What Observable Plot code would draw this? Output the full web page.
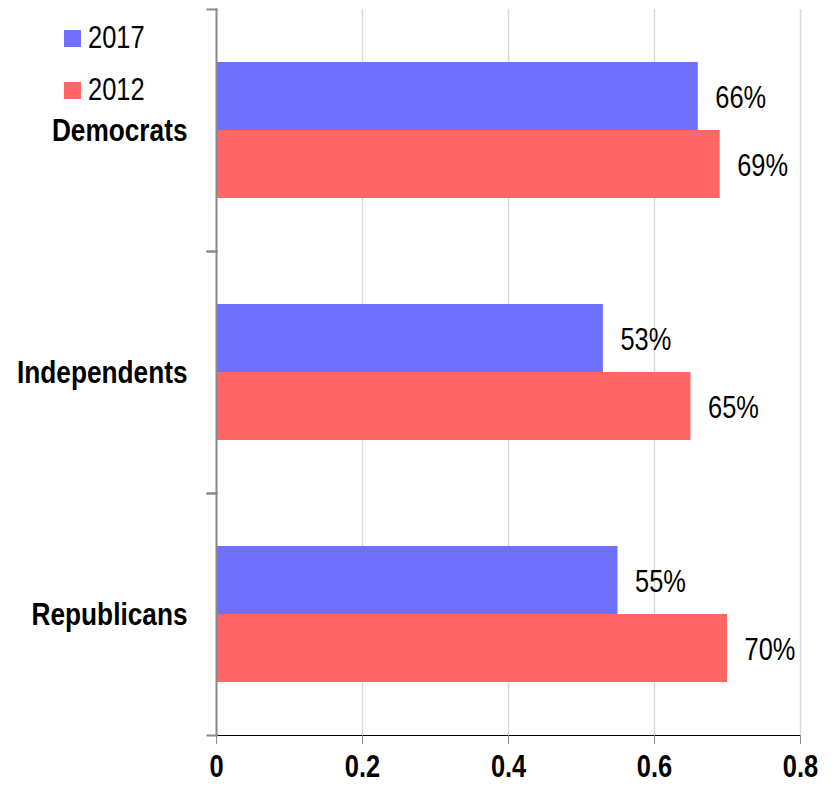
<!DOCTYPE html>
<html>
<head>
<meta charset="utf-8">
<script src="https://cdn.jsdelivr.net/npm/d3@7"></script>
<script src="https://cdn.jsdelivr.net/npm/@observablehq/plot@0.6"></script>
<style>
  html, body { margin: 0; padding: 0; background: #fff; }
  #wrap { position: relative; width: 837px; height: 788px; font-family: "Liberation Sans", Arial, sans-serif; }
  #chart svg { display: block; }
  #legend { position: absolute; left: 64px; top: 0; font-size: 31px; color: #000; }
  .item { position: absolute; left: 0; display: flex; align-items: center; white-space: nowrap; height: 34px; }
  .sw { width: 17px; height: 17px; margin-right: 7px; flex: none; }
  .lt { display: inline-block; transform: scaleX(0.82); transform-origin: left center; }
  g[aria-label*="axis"] { color: #898989; }
  g[aria-label*="axis"][aria-label*="label"] { color: #000; font-weight: 700; }
  g[aria-label="fy-axis tick label"] { font-size: 32px; }
</style>
</head>
<body>
<div id="wrap">
  <div id="chart"></div>
  <div id="legend"></div>
</div>
<script>
const parties = ["Democrats", "Independents", "Republicans"];
const years = ["2017", "2012"];
const values2017 = [0.66, 0.53, 0.55];
const values2012 = [0.69, 0.65, 0.70];
const xTicks = [0, 0.2, 0.4, 0.6, 0.8];
const colors = ["#7070ff", "#ff6666"];

const data = parties.flatMap((p, i) => [
  {party: p, year: "2017", value: values2017[i]},
  {party: p, year: "2012", value: values2012[i]}
]);

const W = 837, H = 788, mL = 216, mR = 37, mT = 8, mB = 53;
const font = '"Liberation Sans", Arial, sans-serif';
const narrow = 0.82;

const plot = Plot.plot({
  width: W, height: H,
  marginLeft: mL, marginRight: mR, marginTop: mT, marginBottom: mB,
  style: {fontFamily: font, fontSize: "31px", color: "#000", background: "#fff"},
  x: {domain: [0, 0.8], ticks: xTicks, tickSize: 9, tickPadding: 10, label: null, line: true, tickFormat: d => String(d)},
  y: {domain: years, axis: null, paddingInner: 0, paddingOuter: 0.754},
  fy: {domain: parties, padding: 0, axis: "left", label: null, tickSize: 0, tickPadding: 29},
  color: {domain: years, range: colors},
  marks: [
    Plot.ruleX(xTicks.slice(1), {stroke: "#d9d9d9", strokeWidth: 1.5}),
    Plot.barX(data, {fy: "party", y: "year", x: "value", fill: "year"}),
    Plot.text(data, {fy: "party", y: "year", x: "value", text: d => Math.round(d.value * 100) + "%",
      textAnchor: "start", dx: 17, dy: 2, fontSize: 31, fill: "#000"}),
    Plot.frame({anchor: "left", stroke: "#898989", strokeWidth: 2}),
    Plot.frame({anchor: "top", insetLeft: -9, insetRight: W - mL - mR, stroke: "#898989", strokeWidth: 2}),
    Plot.frame({anchor: "bottom", insetLeft: -9, insetRight: W - mL - mR, stroke: "#898989", strokeWidth: 2})
  ]
});
document.getElementById("chart").appendChild(plot);

// Narrow (condensed) look: compress each text horizontally about its anchor point,
// by wrapping it in a group; the text keeps its own position attributes.
const svgNS = "http://www.w3.org/2000/svg";
const texts = Array.from(plot.querySelectorAll("text"));
texts.forEach(t => {
  const parent = t.parentNode;
  const r = t.getBoundingClientRect();
  const anchor = getComputedStyle(t).textAnchor;
  const sx = anchor === "end" ? r.right : anchor === "middle" ? (r.left + r.right) / 2 : r.left;
  const pt = plot.createSVGPoint();
  pt.x = sx; pt.y = r.top;
  const p = pt.matrixTransform(parent.getScreenCTM().inverse());
  const g = document.createElementNS(svgNS, "g");
  g.setAttribute("transform", `translate(${p.x},0) scale(${narrow},1) translate(${-p.x},0)`);
  parent.insertBefore(g, t);
  g.appendChild(t);
});

const legend = document.getElementById("legend");
years.forEach((y, i) => {
  const item = document.createElement("div");
  item.className = "item";
  item.style.top = (21 + i * 52) + "px";
  const sw = document.createElement("div");
  sw.className = "sw";
  sw.style.background = colors[i];
  const lt = document.createElement("span");
  lt.className = "lt";
  lt.textContent = y;
  item.appendChild(sw);
  item.appendChild(lt);
  legend.appendChild(item);
});
</script>
</body>
</html>
